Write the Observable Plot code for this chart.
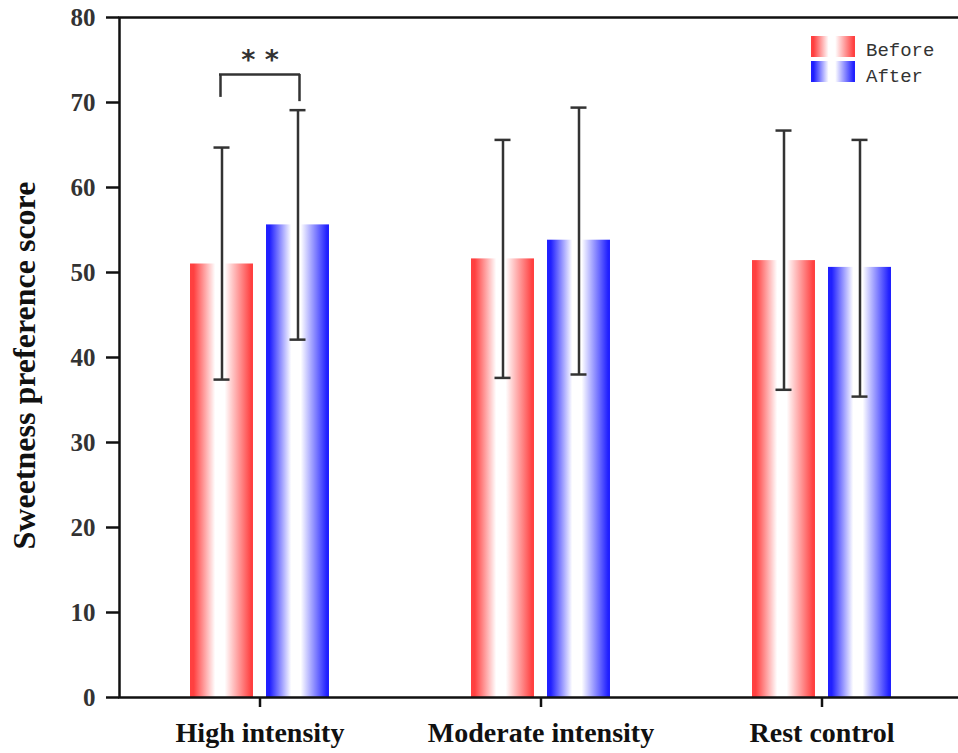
<!DOCTYPE html>
<html>
<head>
<meta charset="utf-8">
<script src="https://cdn.jsdelivr.net/npm/d3@7"></script>
<script src="https://cdn.jsdelivr.net/npm/@observablehq/plot@0.6"></script>
<style>
  html, body { margin: 0; padding: 0; background: #fff; }
  #chart { position: relative; width: 958px; height: 753px; }
</style>
</head>
<body>
<div id="chart"></div>
<script>
// ---- data ----
const categories = ["High intensity", "Moderate intensity", "Rest control"];
const beforeMean = [51.0, 51.6, 51.4];
const beforeLow  = [37.4, 37.6, 36.2];
const beforeHigh = [64.7, 65.6, 66.7];
const afterMean  = [55.6, 53.8, 50.6];
const afterLow   = [42.1, 38.0, 35.4];
const afterHigh  = [69.1, 69.4, 65.6];
const yTicks = [0, 10, 20, 30, 40, 50, 60, 70, 80];
const yLabel = "Sweetness preference score";
const seriesNames = ["Before", "After"];
// significance bracket
const sigCategory = ["High intensity"];
const sigTop = [73.3];
const sigLeftBottom = [70.6];
const sigRightBottom = [70.1];
const sigText = ["* *"];
const sigTextY = [76.2];

const before = categories.map((c, i) => ({cat: c, mean: beforeMean[i], lo: beforeLow[i], hi: beforeHigh[i]}));
const after  = categories.map((c, i) => ({cat: c, mean: afterMean[i],  lo: afterLow[i],  hi: afterHigh[i]}));
const sig = sigCategory.map((c, i) => ({cat: c, top: sigTop[i], lb: sigLeftBottom[i], rb: sigRightBottom[i], text: sigText[i], ty: sigTextY[i]}));

const ink = "#111";
const errInk = "#333";
const serif = "'Liberation Serif', 'Times New Roman', serif";

const plot = Plot.plot({
  width: 958,
  height: 753,
  marginLeft: 119,
  marginRight: -4,
  marginTop: 17,
  marginBottom: 56,
  style: {background: "#fff", color: ink, overflow: "visible"},
  x: {domain: categories, padding: 0, label: null},
  y: {domain: [0, 80], label: null},
  marks: [
    Plot.barY(before, {x: "cat", y: "mean", fill: "url(#gBefore)", insetLeft: 71, insetRight: 147}),
    Plot.barY(after,  {x: "cat", y: "mean", fill: "url(#gAfter)",  insetLeft: 147, insetRight: 71}),
    // error bars
    Plot.ruleX(before, {x: "cat", y1: "lo", y2: "hi", dx: -38, stroke: errInk, strokeWidth: 2.5}),
    Plot.ruleX(after,  {x: "cat", y1: "lo", y2: "hi", dx: 38,  stroke: errInk, strokeWidth: 2.5}),
    Plot.tickY(before, {x: "cat", y: "lo", insetLeft: 94.5, insetRight: 170.5, stroke: errInk, strokeWidth: 2.5}),
    Plot.tickY(before, {x: "cat", y: "hi", insetLeft: 94.5, insetRight: 170.5, stroke: errInk, strokeWidth: 2.5}),
    Plot.tickY(after,  {x: "cat", y: "lo", insetLeft: 170.5, insetRight: 94.5, stroke: errInk, strokeWidth: 2.5}),
    Plot.tickY(after,  {x: "cat", y: "hi", insetLeft: 170.5, insetRight: 94.5, stroke: errInk, strokeWidth: 2.5}),
    // significance bracket
    Plot.ruleX(sig, {x: "cat", y1: "lb", y2: "top", dx: -39.5, stroke: errInk, strokeWidth: 2.5}),
    Plot.ruleX(sig, {x: "cat", y1: "rb", y2: "top", dx: 39.5, stroke: errInk, strokeWidth: 2.5}),
    Plot.tickY(sig, {x: "cat", y: "top", insetLeft: 100, insetRight: 100, stroke: errInk, strokeWidth: 2.5}),
    Plot.text(sig, {x: "cat", y: "ty", text: "text", lineAnchor: "top", fontSize: 27, fontWeight: "bold", fontFamily: "'DejaVu Sans', sans-serif", fill: "#333"}),
    // axes
    Plot.axisY({ticks: yTicks, tickSize: 13, tickPadding: 11, fontSize: 25, fontFamily: serif, fontWeight: "bold", strokeWidth: 2.5, stroke: ink, fill: "#333", label: null}),
    Plot.axisX({tickSize: 10, tickPadding: 15, fontSize: 28, fontFamily: serif, fontWeight: "bold", strokeWidth: 2.5, stroke: ink, fill: ink, label: null}),
    Plot.text([yLabel], {frameAnchor: "left", textAnchor: "middle", lineAnchor: "middle", rotate: -90, dx: -95, dy: 8, fontSize: 32, fontFamily: serif, fontWeight: "bold", fill: ink}),
    Plot.frame({stroke: ink, strokeWidth: 2.5})
  ]
});

// gradients
const svg = d3.select(plot);
const defs = svg.insert("defs", ":first-child");
function grad(id, color) {
  const g = defs.append("linearGradient").attr("id", id).attr("x1", "0").attr("x2", "1").attr("y1", "0").attr("y2", "0");
  [[0, color], [0.06, color], [0.40, "#ffffff"], [0.55, "#ffffff"], [0.97, color], [1, color]].forEach(([o, c]) => {
    g.append("stop").attr("offset", o).attr("stop-color", c);
  });
}
grad("gBefore", "#ff4040");
grad("gAfter", "#2020ff");

// legend
const legend = svg.append("g").attr("class", "legend").attr("text-anchor", "start");
seriesNames.forEach((name, i) => {
  legend.append("rect").attr("x", 811).attr("y", 36 + i * 25).attr("width", 44).attr("height", 21)
    .attr("fill", i === 0 ? "url(#gBefore)" : "url(#gAfter)");
  legend.append("text").attr("x", 866).attr("y", 56 + i * 26).text(name)
    .attr("text-anchor", "start")
    .attr("font-family", "'Liberation Mono', monospace").attr("font-size", 19).attr("fill", "#333");
});

document.getElementById("chart").appendChild(plot);
</script>
</body>
</html>
